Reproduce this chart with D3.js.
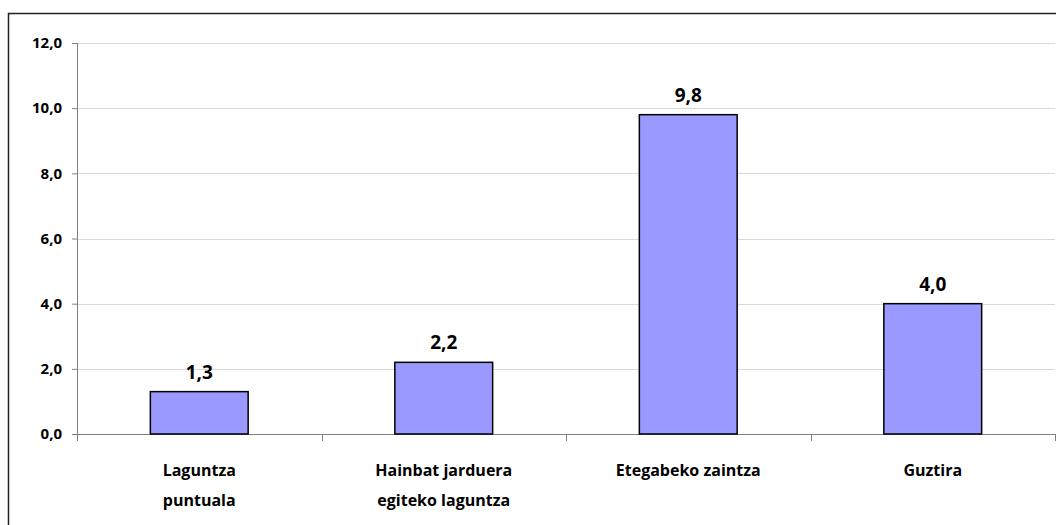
<!DOCTYPE html>
<html lang="eu">
<head>
    <meta charset="UTF-8">
    <title>Bar chart</title>
    <script src="https://d3js.org/d3.v7.min.js"></script>
    <style>
        body {
            margin: 0;
            background: #fff;
            font-family: "Open Sans", Arial, sans-serif;
        }
        .grid line {
            stroke: #d9d9d9;
            stroke-width: 1px;
        }
        .axis path, .axis line {
            stroke: #808080;
            stroke-width: 1px;
        }
        .axis text {
            font-weight: bold;
            fill: #000;
        }
        .bar {
            fill: #9999ff;
            stroke: #000;
            stroke-width: 1.5px;
        }
        .value {
            font-size: 19px;
            font-weight: bold;
        }
        .cat {
            font-size: 16px;
            font-weight: bold;
        }
    </style>
</head>
<body>
<svg width="1056" height="525"></svg>

<script>
    // chart data
    const categories = ["Laguntza puntuala", "Hainbat jarduera egiteko laguntza", "Etegabeko zaintza", "Guztira"];
    const labelLines = [["Laguntza", "puntuala"], ["Hainbat jarduera", "egiteko laguntza"], ["Etegabeko zaintza"], ["Guztira"]];
    const values = [1.3, 2.2, 9.8, 4.0];
    const yTicks = [0, 2, 4, 6, 8, 10, 12];

    const svg = d3.select("svg");
    const margin = {left: 77, right: 1, top: 43, bottom: 91};
    const width = 1056 - margin.left - margin.right,
          height = 525 - margin.top - margin.bottom;

    // outer frame (runs past the right and bottom edge)
    svg.append("rect")
        .attr("x", 8.5).attr("y", 13.5)
        .attr("width", 1200).attr("height", 700)
        .attr("fill", "none")
        .attr("stroke", "#222")
        .attr("stroke-width", 1.5);

    const g = svg.append("g").attr("transform", `translate(${margin.left},${margin.top})`);

    const x = d3.scaleBand().domain(categories).range([0, width]).paddingInner(0.6).paddingOuter(0.3);
    const xOuter = d3.scaleBand().domain(categories).range([0, width]);
    const y = d3.scaleLinear().domain([0, 12]).range([height, 0]);

    const fmt = d => d3.format(".1f")(d).replace(".", ",");

    // gridlines
    g.append("g").attr("class", "grid")
        .selectAll("line")
        .data(yTicks.filter(d => d > 0))
        .enter().append("line")
            .attr("x1", 0).attr("x2", width)
            .attr("y1", d => Math.round(y(d)) + 0.5)
            .attr("y2", d => Math.round(y(d)) + 0.5);

    // y axis
    const yAxis = g.append("g").attr("class", "axis")
        .call(d3.axisLeft(y).tickValues(yTicks).tickFormat(fmt).tickSize(5).tickPadding(10));
    yAxis.attr("font-size", 15).attr("font-family", null);
    yAxis.select(".domain").attr("d", `M0.5,${height}V0`);

    // x axis with ticks between categories
    const bounds = categories.map(c => xOuter(c)).concat([width]);
    const xg = g.append("g").attr("class", "axis").attr("transform", `translate(0,${height})`);
    xg.append("line").attr("x1", 0).attr("x2", width).attr("y1", 0.5).attr("y2", 0.5);
    xg.selectAll(".tk")
        .data(bounds)
        .enter().append("line")
            .attr("class", "tk")
            .attr("x1", d => Math.round(d) + 0.5).attr("x2", d => Math.round(d) + 0.5)
            .attr("y1", 0).attr("y2", 7);

    // bars
    g.selectAll(".bar")
        .data(values)
        .enter().append("rect")
            .attr("class", "bar")
            .attr("x", (d, i) => x(categories[i]))
            .attr("y", d => y(d))
            .attr("width", x.bandwidth())
            .attr("height", d => height - y(d));

    // value labels
    g.selectAll(".value")
        .data(values)
        .enter().append("text")
            .attr("class", "value")
            .attr("x", (d, i) => x(categories[i]) + x.bandwidth() / 2)
            .attr("y", d => y(d) - 13)
            .attr("text-anchor", "middle")
            .text(fmt);

    // category labels
    labelLines.forEach((lines, i) => {
        const cx = xOuter(categories[i]) + xOuter.bandwidth() / 2;
        const t = g.append("text")
            .attr("class", "cat")
            .attr("text-anchor", "middle");
        lines.forEach((line, j) => {
            t.append("tspan")
                .attr("x", cx)
                .attr("y", height + 42 + j * 30)
                .text(line);
        });
    });
</script>

</body>
</html>
